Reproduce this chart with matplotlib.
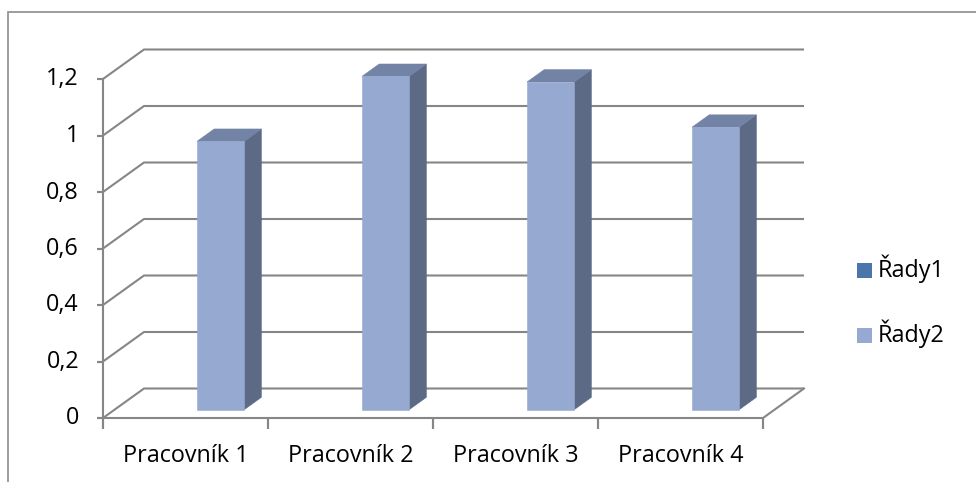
import numpy as np
import matplotlib
matplotlib.use("Agg")
import matplotlib.pyplot as plt
from matplotlib.patches import Polygon, Rectangle
from matplotlib.transforms import offset_copy

# ---- data ----
categories = ["Pracovník 1", "Pracovník 2", "Pracovník 3", "Pracovník 4"]
series_names = ["Řady1", "Řady2"]
rady1 = [None, None, None, None]          # empty series
rady2 = [0.95, 1.18, 1.16, 1.0]
y_ticks = [0, 0.2, 0.4, 0.6, 0.8, 1.0, 1.2]
y_tick_labels = ["0", "0,2", "0,4", "0,6", "0,8", "1", "1,2"]

# ---- style ----
FONT = ["Open Sans", "DejaVu Sans"]
FS = 16.8
GRID = "#868686"
FRONT = "#95A9D1"
SIDE = "#5C6A86"
TOP = "#7283A6"
LEG1 = "#4A76AC"
LEG2 = "#95A9D1"

W, H = 976, 482
fig = plt.figure(figsize=(W / 100, H / 100), dpi=100)
fig.patch.set_facecolor("white")

def fx(px):
    return px / W

def fy(py):
    return 1 - py / H

# front plane of the 3-D plot area
left, right, bottom, top = 103, 763, 418, 79
ax = fig.add_axes([fx(left), fy(bottom), fx(right - left), (bottom - top) / H])
ax.set_xlim(0, len(categories))
ax.set_ylim(0, 1.2)
ax.axis("off")

# oblique depth vector (data units for full depth)
DX = 41 / ((right - left) / len(categories))
DY = 29.5 / ((bottom - top) / 1.2)

def P(x, y, d):
    return (x + d * DX, y + d * DY)

ncat = len(categories)
lw = 1.5

# walls: gridlines run along the left wall and the back wall
for v in y_ticks:
    pts = [P(0, v, 0), P(0, v, 1), P(ncat, v, 1)]
    ax.plot(*zip(*pts), color=GRID, lw=lw, clip_on=False, zorder=1,
            solid_capstyle="butt")
# floor outline
floor = [P(0, 0, 0), P(ncat, 0, 0), P(ncat, 0, 1)]
ax.plot(*zip(*floor), color=GRID, lw=lw, clip_on=False, zorder=1)
# value axis
ax.plot([0, 0], [0, 1.2], color=GRID, lw=lw, clip_on=False, zorder=1)

# tick marks and labels
for v, lab in zip(y_ticks, y_tick_labels):
    ax.plot([0, 0], [v, v], color=GRID, lw=lw, clip_on=False, zorder=1,
            marker=[(-1, 0), (0, 0)], markersize=8, markeredgewidth=lw)
    t = offset_copy(ax.transData, fig=fig, x=-24 / 100 * 72, y=-6.5 / 100 * 72,
                    units="points")
    ax.text(0, v, lab, transform=t, ha="right", va="baseline",
            fontsize=FS, family=FONT, color="black")
for i in range(ncat + 1):
    ax.plot([i, i], [0, 0], color=GRID, lw=lw, clip_on=False, zorder=1,
            marker=[(0, 0), (0, -1)], markersize=16, markeredgewidth=lw)
for i, c in enumerate(categories):
    t = offset_copy(ax.transData, fig=fig, x=0, y=-44 / 100 * 72, units="points")
    ax.text(i + 0.5, 0, c, transform=t, ha="center", va="baseline",
            fontsize=FS, family=FONT, color="black")

# 3-D clustered columns
gap = 1.5
w = 1 / (len(series_names) + gap)
d0, d1 = 0.28, 0.70
for s, vals in enumerate([rady1, rady2]):
    for i, h in enumerate(vals):
        if h is None:
            continue
        x0 = i + gap / 2 * w + s * w
        x1 = x0 + w
        side = [P(x1, 0, d0), P(x1, 0, d1), P(x1, h, d1), P(x1, h, d0)]
        topf = [P(x0, h, d0), P(x1, h, d0), P(x1, h, d1), P(x0, h, d1)]
        front = [P(x0, 0, d0), P(x1, 0, d0), P(x1, h, d0), P(x0, h, d0)]
        for poly, col in ((side, SIDE), (topf, TOP), (front, FRONT)):
            ax.add_patch(Polygon(poly, closed=True, facecolor=col, edgecolor=col,
                                 lw=0.4, clip_on=False, zorder=3))

# legend
for k, (name, col) in enumerate(zip(series_names, [LEG1, LEG2])):
    cy = 270 + k * 65
    fig.patches.append(Rectangle((fx(857), fy(cy + 7.5)), fx(14.5), 14.5 / H,
                                 transform=fig.transFigure, facecolor=col,
                                 edgecolor="none"))
    fig.text(fx(878), fy(cy + 7), name, ha="left", va="baseline",
             fontsize=FS, family=FONT, color="black")

# chart-area border
fig.patches.append(Rectangle((fx(8), fy(H + 10)), fx(W), (H + 10 - 12) / H,
                             transform=fig.transFigure, facecolor="none",
                             edgecolor="#8C8C8C", lw=1.2))

fig.savefig("out.png", dpi=100, facecolor="white")
